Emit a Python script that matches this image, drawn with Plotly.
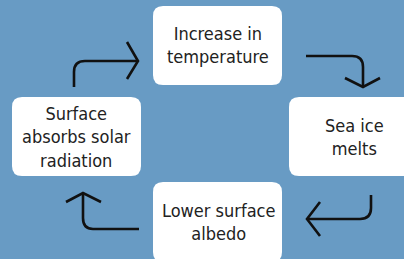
import plotly.graph_objects as go

W, H = 404, 259
BG = "#689BC4"

labels = ["Increase in<br>temperature", "Sea ice<br>melts", "Lower surface<br>albedo", "Surface<br>absorbs solar<br>radiation"]
# box extents (x0, y0, x1, y1) in pixel space
boxes = [(153, 6, 282, 85), (289, 97, 420, 176), (153, 182, 282, 262), (12, 97, 141, 176)]
text_pos = [(218, 45), (354, 137), (218, 222), (76, 137)]

# arrow paths: shaft and head
arrows = [
    dict(shaft="M 74,87 L 74,72 Q 74,61 85,61 L 138,61", head="M 127,42 L 138,61 L 127,79"),
    dict(shaft="M 306,56 L 352,56 Q 363,56 363,67 L 363,87", head="M 345,78 L 363,87 L 380,78"),
    dict(shaft="M 371,195 L 371,208 Q 371,219 360,219 L 307,219", head="M 320,202 L 307,219 L 320,236"),
    dict(shaft="M 139,229 L 93,229 Q 83,229 83,218 L 83,194", head="M 66,202 L 83,193 L 101,202"),
]

def rrect(x0, y0, x1, y1, r=10):
    return (f"M {x0+r},{y0} L {x1-r},{y0} Q {x1},{y0} {x1},{y0+r} "
            f"L {x1},{y1-r} Q {x1},{y1} {x1-r},{y1} L {x0+r},{y1} "
            f"Q {x0},{y1} {x0},{y1-r} L {x0},{y0+r} Q {x0},{y0} {x0+r},{y0} Z")

fig = go.Figure()
shapes = []
for b in boxes:
    shapes.append(dict(type="path", path=rrect(*b), fillcolor="white", line=dict(width=0), layer="below"))
for a in arrows:
    shapes.append(dict(type="path", path=a["shaft"], line=dict(color="#111111", width=2.6)))
    shapes.append(dict(type="path", path=a["head"], line=dict(color="#111111", width=2.6)))

annotations = []
for lab, (tx, ty) in zip(labels, text_pos):
    annotations.append(dict(x=tx, y=ty, text=lab, showarrow=False, xanchor="center", yanchor="middle",
                            font=dict(family="DejaVu Sans Condensed, sans-serif", size=18, color="#222222")))

fig.update_layout(
    width=W, height=H, margin=dict(l=0, r=0, t=0, b=0),
    paper_bgcolor=BG, plot_bgcolor=BG,
    xaxis=dict(range=[0, W], visible=False, fixedrange=True),
    yaxis=dict(range=[H, 0], visible=False, fixedrange=True),
    shapes=shapes, annotations=annotations, showlegend=False,
)
fig.write_html("out.html", config=dict(displayModeBar=False),
               post_script="document.body.style.margin='0';document.body.style.overflow='hidden';")
